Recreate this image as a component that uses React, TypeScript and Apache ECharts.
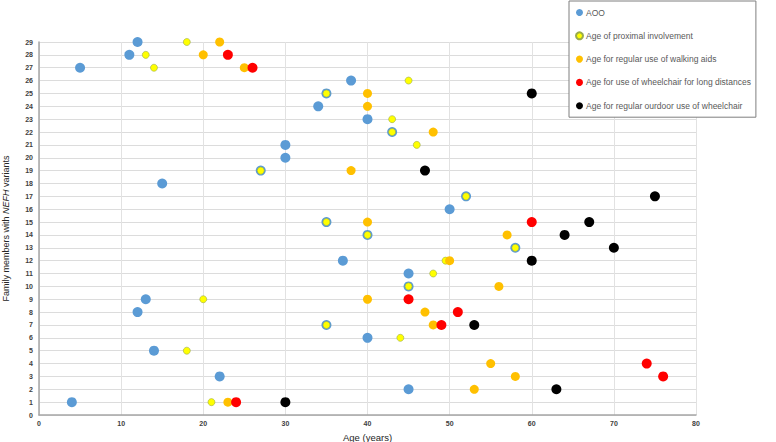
import React, { useEffect, useRef } from "react";
import * as echarts from "echarts";

// Family members 1..29 (index 0 = member 1); null = no value
const members = Array.from({ length: 29 }, (_, i) => i + 1);
const aoo = [4, 45, 22, null, 14, 40, 35, 12, 13, 45, 45, 37, 58, 40, 35, 50, 52, 15, 27, 30, 30, 43, 40, 34, 35, 38, 5, 11, 12];
const proximal = [21, null, null, null, 18, 44, 35, null, 20, 45, 48, 49.5, 58, 40, 35, null, 52, null, 27, null, 46, 43, 43, null, 35, 45, 14, 13, 18];
const walkingAids = [23, 53, 58, 55, null, null, 48, 47, 40, 56, null, 50, null, 57, 40, null, null, null, 38, null, null, 48, null, 40, 40, null, 25, 20, 22];
const wheelchairLong = [24, null, 76, 74, null, null, 49, 51, 45, null, null, null, null, null, 60, null, null, null, null, null, null, null, null, null, null, null, 26, 23, null];
const wheelchairOutdoor = [30, 63, null, null, null, null, 53, null, null, null, null, 60, 70, 64, 67, null, 75, null, 47, null, null, null, null, null, 60, null, null, null, null];

const seriesNames = [
  "AOO",
  "Age of proximal involvement",
  "Age for regular use of walking aids",
  "Age for use of wheelchair for long distances",
  "Age for regular ourdoor use of wheelchair",
];

function pairs(arr: (number | null)[]) {
  const out: number[][] = [];
  arr.forEach((v, i) => {
    if (v !== null) out.push([v, members[i]]);
  });
  return out;
}

export default function App() {
  const ref = useRef<HTMLDivElement>(null);
  useEffect(() => {
    if (!ref.current) return;
    const chart = echarts.init(ref.current, null, { renderer: "svg" });
    const font = "Liberation Sans, Arial, sans-serif";
    chart.setOption({
      animation: false,
      backgroundColor: "#ffffff",
      textStyle: { fontFamily: font },
      grid: { left: 39, right: 80, top: 42, bottom: 27, containLabel: false, outerBoundsMode: "none" },
      legend: {
        orient: "vertical",
        left: 569,
        top: 1,
        padding: [7, 5, 7, 6],
        itemGap: 14.3,
        itemWidth: 7,
        itemHeight: 7,
        icon: "circle",
        backgroundColor: "#ffffff",
        borderColor: "#7f7f7f",
        borderWidth: 1,
        borderRadius: 0,
        textStyle: { fontSize: 8.5, color: "#595959", fontFamily: font, padding: [0, 0, 0, -2] },
        data: seriesNames,
      },
      xAxis: {
        type: "value",
        min: 0,
        max: 80,
        interval: 10,
        name: "Age (years)",
        nameLocation: "middle",
        nameGap: 17,
        nameTextStyle: { fontSize: 9.5, color: "#262626", fontFamily: font },
        axisLine: { show: true, lineStyle: { color: "#a6a6a6", width: 1.5 } },
        axisTick: { show: false },
        axisLabel: { fontSize: 7, fontWeight: "bold", color: "#404040", margin: 5 },
        splitLine: { show: true, lineStyle: { color: "#e2e2e2", width: 1 } },
      },
      yAxis: {
        type: "value",
        min: 0,
        max: 29,
        interval: 1,
        name: "Family members with {i|NEFH} variants",
        nameLocation: "middle",
        nameGap: 29,
        nameRotate: 90,
        nameTextStyle: {
          fontSize: 9,
          color: "#262626",
          fontFamily: font,
          rich: { i: { fontStyle: "italic", fontSize: 9, color: "#262626", fontFamily: font } },
        },
        axisLine: { show: true, lineStyle: { color: "#a6a6a6", width: 1.5 } },
        axisTick: { show: false },
        axisLabel: { fontSize: 7, fontWeight: "bold", color: "#404040", margin: 6 },
        splitLine: { show: true, lineStyle: { color: "#dcdcdc", width: 1 } },
      },
      series: [
        {
          name: seriesNames[0],
          type: "scatter",
          symbolSize: 10,
          itemStyle: { color: "#5b9bd5", opacity: 1 },
          data: pairs(aoo),
        },
        {
          name: seriesNames[1],
          type: "scatter",
          symbolSize: 7,
          itemStyle: { color: "#ffff00", borderColor: "#9aab4a", borderWidth: 0.6, opacity: 1 },
          data: pairs(proximal),
        },
        {
          name: seriesNames[2],
          type: "scatter",
          symbolSize: 9,
          itemStyle: { color: "#ffc000", opacity: 1 },
          data: pairs(walkingAids),
        },
        {
          name: seriesNames[3],
          type: "scatter",
          symbolSize: 10,
          itemStyle: { color: "#ff0000", opacity: 1 },
          data: pairs(wheelchairLong),
        },
        {
          name: seriesNames[4],
          type: "scatter",
          symbolSize: 10,
          itemStyle: { color: "#000000", opacity: 1 },
          data: pairs(wheelchairOutdoor),
        },
      ],
    });
    return () => chart.dispose();
  }, []);
  return <div ref={ref} style={{ width: 776, height: 442, position: "fixed", left: 0, top: 0 }} />;
}
